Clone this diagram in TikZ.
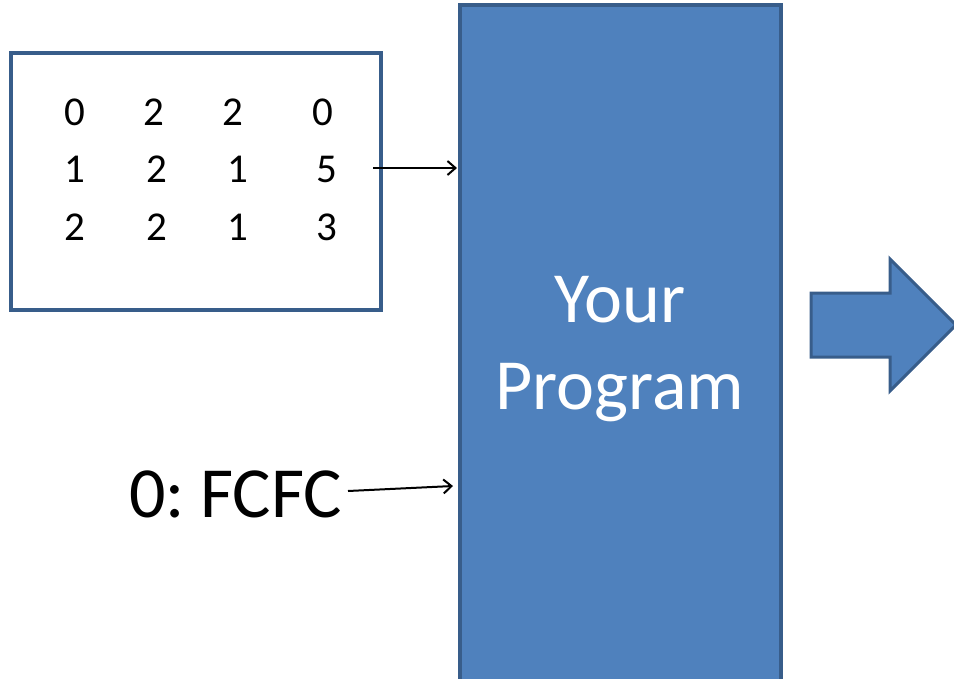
\documentclass[tikz,border=0pt]{standalone}
\usepackage{fontspec}
\setmainfont{Carlito}
\usetikzlibrary{arrows.meta,calc}
\definecolor{ofill}{HTML}{4F81BD}
\definecolor{oline}{HTML}{385D8A}
\tikzset{
  digit/.style={anchor=base,inner sep=0pt,font=\fontsize{41}{48}\selectfont},
  bigtext/.style={anchor=base,inner sep=0pt,font=\fontsize{72}{86}\selectfont},
  conn/.style={draw=black,line width=2pt,-{Straight Barb[length=8pt,width=14pt,line width=2pt]}},
}
\begin{document}
\begin{tikzpicture}[x=1pt,y=-1pt]
\useasboundingbox (0,0) rectangle (954,678);
% input box
\node[draw=oline,line width=4pt,rectangle,minimum width=370pt,minimum height=257pt,inner sep=0pt] (box) at (196,181.5) {};
% digits
\node[digit] (a11) at (75,125) {0};
\node[digit] (a12) at (153.5,125) {2};
\node[digit] (a13) at (233,125) {2};
\node[digit] (a14) at (323,125) {0};
\node[digit] (a21) at (75,182) {1};
\node[digit] (a22) at (157,182) {2};
\node[digit] (a23) at (237.5,182) {1};
\node[digit] (a24) at (326.5,182) {5};
\node[digit] (a31) at (74.5,240) {2};
\node[digit] (a32) at (157,240) {2};
\node[digit] (a33) at (238,240) {1};
\node[digit] (a34) at (327,240) {3};
% program block
\node[draw=oline,fill=ofill,line width=4pt,rectangle,minimum width=321pt,minimum height=700pt,inner sep=0pt] (prog) at (620,355) {};
\node[bigtext,text=white] (your) at (620,322) {Your};
\node[bigtext,text=white] (progtxt) at (620,409) {Program};
% query label
\node[bigtext,anchor=base west] (query) at (129,517) {0:\kern-1pt\ FCFC};
% connectors
\coordinate (s1) at (373,168);
\coordinate (e1) at (457,168);
\draw[conn] (s1) -- (e1);
\coordinate (s2) at (348,491);
\coordinate (e2) at (453,486);
\draw[conn] (s2) -- (e2);
% output block arrow
\draw[draw=oline,fill=ofill,line width=3pt,line join=miter]
  (811,293) -- (890,293) -- (890,259) -- (956,325) -- (890,391) -- (890,357) -- (811,357) -- cycle;
\end{tikzpicture}
\end{document}
